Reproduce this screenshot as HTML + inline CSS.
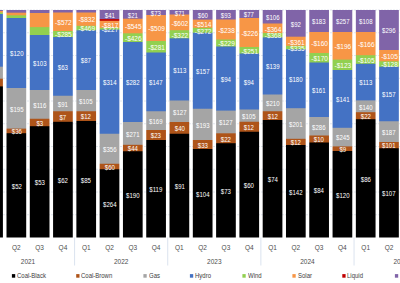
<!DOCTYPE html><html><head><meta charset="utf-8"><style>
*{margin:0;padding:0;box-sizing:border-box}
html,body{width:400px;height:283px;overflow:hidden;background:#fff}
body{position:relative;font-family:"Liberation Sans",sans-serif}
svg{position:absolute;left:0;top:0}
.l{position:absolute;color:#fff;font-size:6.5px;line-height:8px;height:8px;text-align:center;white-space:nowrap}
.ax{position:absolute;color:#4d4d4d;font-size:6.5px;line-height:8px;white-space:nowrap;text-align:center}
.lt{position:absolute;top:271.6px;color:#3d3d3d;font-size:6.5px;line-height:8px;white-space:nowrap;transform:scaleX(0.92);transform-origin:0 50%}
</style></head><body>
<svg width="400" height="283" viewBox="0 0 400 283">
<line x1="0" x2="400" y1="214.75" y2="214.75" stroke="#e2e7ee" stroke-width="1" stroke-dasharray="2 1"/>
<line x1="0" x2="400" y1="192.00" y2="192.00" stroke="#e2e7ee" stroke-width="1" stroke-dasharray="2 1"/>
<line x1="0" x2="400" y1="169.25" y2="169.25" stroke="#e2e7ee" stroke-width="1" stroke-dasharray="2 1"/>
<line x1="0" x2="400" y1="146.50" y2="146.50" stroke="#e2e7ee" stroke-width="1" stroke-dasharray="2 1"/>
<line x1="0" x2="400" y1="123.75" y2="123.75" stroke="#e2e7ee" stroke-width="1" stroke-dasharray="2 1"/>
<line x1="0" x2="400" y1="101.00" y2="101.00" stroke="#e2e7ee" stroke-width="1" stroke-dasharray="2 1"/>
<line x1="0" x2="400" y1="78.25" y2="78.25" stroke="#e2e7ee" stroke-width="1" stroke-dasharray="2 1"/>
<line x1="0" x2="400" y1="55.50" y2="55.50" stroke="#e2e7ee" stroke-width="1" stroke-dasharray="2 1"/>
<line x1="0" x2="400" y1="32.75" y2="32.75" stroke="#e2e7ee" stroke-width="1" stroke-dasharray="2 1"/>
<line x1="0" x2="400" y1="10.00" y2="10.00" stroke="#e2e7ee" stroke-width="1" stroke-dasharray="2 1"/>
<linearGradient id="g0" gradientUnits="userSpaceOnUse" x1="0" x2="0" y1="10.0" y2="237.5"><stop offset="0.00000" stop-color="#8064A8"/><stop offset="0.00220" stop-color="#8064A8"/><stop offset="0.00659" stop-color="#F79646"/><stop offset="0.00879" stop-color="#F79646"/><stop offset="0.01319" stop-color="#92D050"/><stop offset="0.01538" stop-color="#92D050"/><stop offset="0.01978" stop-color="#4472C4"/><stop offset="0.24703" stop-color="#4472C4"/><stop offset="0.25143" stop-color="#A5A5A5"/><stop offset="0.29978" stop-color="#A5A5A5"/><stop offset="0.30418" stop-color="#AE5419"/><stop offset="0.33363" stop-color="#AE5419"/><stop offset="0.33802" stop-color="#000000"/><stop offset="1.00000" stop-color="#000000"/></linearGradient>
<rect x="-16.79" y="10.0" width="19.7" height="227.50" fill="url(#g0)"/>
<linearGradient id="g1" gradientUnits="userSpaceOnUse" x1="0" x2="0" y1="10.0" y2="237.5"><stop offset="0.00000" stop-color="#8064A8"/><stop offset="0.00967" stop-color="#8064A8"/><stop offset="0.01407" stop-color="#F79646"/><stop offset="0.02110" stop-color="#F79646"/><stop offset="0.02549" stop-color="#92D050"/><stop offset="0.03297" stop-color="#92D050"/><stop offset="0.03736" stop-color="#4472C4"/><stop offset="0.34066" stop-color="#4472C4"/><stop offset="0.34505" stop-color="#A5A5A5"/><stop offset="0.51912" stop-color="#A5A5A5"/><stop offset="0.52352" stop-color="#AE5419"/><stop offset="0.53934" stop-color="#AE5419"/><stop offset="0.54374" stop-color="#000000"/><stop offset="1.00000" stop-color="#000000"/></linearGradient>
<rect x="6.50" y="10.0" width="19.7" height="227.50" fill="url(#g1)"/>
<linearGradient id="g2" gradientUnits="userSpaceOnUse" x1="0" x2="0" y1="10.0" y2="237.5"><stop offset="0.00000" stop-color="#8064A8"/><stop offset="0.01099" stop-color="#8064A8"/><stop offset="0.01538" stop-color="#F79646"/><stop offset="0.07297" stop-color="#F79646"/><stop offset="0.07736" stop-color="#92D050"/><stop offset="0.10769" stop-color="#92D050"/><stop offset="0.11209" stop-color="#4472C4"/><stop offset="0.34945" stop-color="#4472C4"/><stop offset="0.35385" stop-color="#A5A5A5"/><stop offset="0.47582" stop-color="#A5A5A5"/><stop offset="0.48022" stop-color="#AE5419"/><stop offset="0.50857" stop-color="#AE5419"/><stop offset="0.51297" stop-color="#000000"/><stop offset="1.00000" stop-color="#000000"/></linearGradient>
<rect x="29.79" y="10.0" width="19.7" height="227.50" fill="url(#g2)"/>
<linearGradient id="g3" gradientUnits="userSpaceOnUse" x1="0" x2="0" y1="10.0" y2="237.5"><stop offset="0.00000" stop-color="#8064A8"/><stop offset="0.00879" stop-color="#8064A8"/><stop offset="0.01319" stop-color="#F79646"/><stop offset="0.09011" stop-color="#F79646"/><stop offset="0.09451" stop-color="#92D050"/><stop offset="0.11648" stop-color="#92D050"/><stop offset="0.12088" stop-color="#4472C4"/><stop offset="0.37473" stop-color="#4472C4"/><stop offset="0.37912" stop-color="#A5A5A5"/><stop offset="0.44286" stop-color="#A5A5A5"/><stop offset="0.44725" stop-color="#AE5419"/><stop offset="0.48923" stop-color="#AE5419"/><stop offset="0.49363" stop-color="#000000"/><stop offset="1.00000" stop-color="#000000"/></linearGradient>
<rect x="53.08" y="10.0" width="19.7" height="227.50" fill="url(#g3)"/>
<linearGradient id="g4" gradientUnits="userSpaceOnUse" x1="0" x2="0" y1="10.0" y2="237.5"><stop offset="0.00000" stop-color="#8064A8"/><stop offset="0.00879" stop-color="#8064A8"/><stop offset="0.01319" stop-color="#F79646"/><stop offset="0.06725" stop-color="#F79646"/><stop offset="0.07165" stop-color="#92D050"/><stop offset="0.08703" stop-color="#92D050"/><stop offset="0.09143" stop-color="#4472C4"/><stop offset="0.34945" stop-color="#4472C4"/><stop offset="0.35385" stop-color="#A5A5A5"/><stop offset="0.44286" stop-color="#A5A5A5"/><stop offset="0.44725" stop-color="#AE5419"/><stop offset="0.48571" stop-color="#AE5419"/><stop offset="0.49011" stop-color="#000000"/><stop offset="1.00000" stop-color="#000000"/></linearGradient>
<rect x="76.37" y="10.0" width="19.7" height="227.50" fill="url(#g4)"/>
<linearGradient id="g5" gradientUnits="userSpaceOnUse" x1="0" x2="0" y1="10.0" y2="237.5"><stop offset="0.00000" stop-color="#8064A8"/><stop offset="0.03780" stop-color="#8064A8"/><stop offset="0.04220" stop-color="#C00000"/><stop offset="0.04527" stop-color="#C00000"/><stop offset="0.04967" stop-color="#F79646"/><stop offset="0.07604" stop-color="#F79646"/><stop offset="0.08044" stop-color="#92D050"/><stop offset="0.08396" stop-color="#92D050"/><stop offset="0.08835" stop-color="#4472C4"/><stop offset="0.54176" stop-color="#4472C4"/><stop offset="0.54615" stop-color="#A5A5A5"/><stop offset="0.67363" stop-color="#A5A5A5"/><stop offset="0.67802" stop-color="#AE5419"/><stop offset="0.69780" stop-color="#AE5419"/><stop offset="0.70220" stop-color="#000000"/><stop offset="1.00000" stop-color="#000000"/></linearGradient>
<rect x="99.66" y="10.0" width="19.7" height="227.50" fill="url(#g5)"/>
<linearGradient id="g6" gradientUnits="userSpaceOnUse" x1="0" x2="0" y1="10.0" y2="237.5"><stop offset="0.00000" stop-color="#8064A8"/><stop offset="0.03604" stop-color="#8064A8"/><stop offset="0.04044" stop-color="#F79646"/><stop offset="0.10022" stop-color="#F79646"/><stop offset="0.10462" stop-color="#92D050"/><stop offset="0.13846" stop-color="#92D050"/><stop offset="0.14286" stop-color="#4472C4"/><stop offset="0.49011" stop-color="#4472C4"/><stop offset="0.49451" stop-color="#A5A5A5"/><stop offset="0.59033" stop-color="#A5A5A5"/><stop offset="0.59473" stop-color="#AE5419"/><stop offset="0.61868" stop-color="#AE5419"/><stop offset="0.62308" stop-color="#000000"/><stop offset="1.00000" stop-color="#000000"/></linearGradient>
<rect x="122.95" y="10.0" width="19.7" height="227.50" fill="url(#g6)"/>
<linearGradient id="g7" gradientUnits="userSpaceOnUse" x1="0" x2="0" y1="10.0" y2="237.5"><stop offset="0.00000" stop-color="#8064A8"/><stop offset="0.01978" stop-color="#8064A8"/><stop offset="0.02418" stop-color="#F79646"/><stop offset="0.13407" stop-color="#F79646"/><stop offset="0.13846" stop-color="#92D050"/><stop offset="0.18462" stop-color="#92D050"/><stop offset="0.18901" stop-color="#4472C4"/><stop offset="0.44286" stop-color="#4472C4"/><stop offset="0.44725" stop-color="#A5A5A5"/><stop offset="0.52527" stop-color="#A5A5A5"/><stop offset="0.52967" stop-color="#AE5419"/><stop offset="0.56923" stop-color="#AE5419"/><stop offset="0.57363" stop-color="#000000"/><stop offset="1.00000" stop-color="#000000"/></linearGradient>
<rect x="146.24" y="10.0" width="19.7" height="227.50" fill="url(#g7)"/>
<linearGradient id="g8" gradientUnits="userSpaceOnUse" x1="0" x2="0" y1="10.0" y2="237.5"><stop offset="0.00000" stop-color="#8064A8"/><stop offset="0.01758" stop-color="#8064A8"/><stop offset="0.02198" stop-color="#F79646"/><stop offset="0.08659" stop-color="#F79646"/><stop offset="0.09099" stop-color="#92D050"/><stop offset="0.12220" stop-color="#92D050"/><stop offset="0.12659" stop-color="#4472C4"/><stop offset="0.39560" stop-color="#4472C4"/><stop offset="0.40000" stop-color="#A5A5A5"/><stop offset="0.49011" stop-color="#A5A5A5"/><stop offset="0.49451" stop-color="#AE5419"/><stop offset="0.54176" stop-color="#AE5419"/><stop offset="0.54615" stop-color="#000000"/><stop offset="1.00000" stop-color="#000000"/></linearGradient>
<rect x="169.53" y="10.0" width="19.7" height="227.50" fill="url(#g8)"/>
<linearGradient id="g9" gradientUnits="userSpaceOnUse" x1="0" x2="0" y1="10.0" y2="237.5"><stop offset="0.00000" stop-color="#8064A8"/><stop offset="0.04000" stop-color="#8064A8"/><stop offset="0.04440" stop-color="#F79646"/><stop offset="0.07604" stop-color="#F79646"/><stop offset="0.08044" stop-color="#92D050"/><stop offset="0.09802" stop-color="#92D050"/><stop offset="0.10242" stop-color="#4472C4"/><stop offset="0.43187" stop-color="#4472C4"/><stop offset="0.43626" stop-color="#A5A5A5"/><stop offset="0.56923" stop-color="#A5A5A5"/><stop offset="0.57363" stop-color="#AE5419"/><stop offset="0.60879" stop-color="#AE5419"/><stop offset="0.61319" stop-color="#000000"/><stop offset="1.00000" stop-color="#000000"/></linearGradient>
<rect x="192.82" y="10.0" width="19.7" height="227.50" fill="url(#g9)"/>
<linearGradient id="g10" gradientUnits="userSpaceOnUse" x1="0" x2="0" y1="10.0" y2="237.5"><stop offset="0.00000" stop-color="#8064A8"/><stop offset="0.03956" stop-color="#8064A8"/><stop offset="0.04396" stop-color="#F79646"/><stop offset="0.12747" stop-color="#F79646"/><stop offset="0.13187" stop-color="#92D050"/><stop offset="0.15824" stop-color="#92D050"/><stop offset="0.16264" stop-color="#4472C4"/><stop offset="0.44000" stop-color="#4472C4"/><stop offset="0.44440" stop-color="#A5A5A5"/><stop offset="0.53978" stop-color="#A5A5A5"/><stop offset="0.54418" stop-color="#AE5419"/><stop offset="0.58330" stop-color="#AE5419"/><stop offset="0.58769" stop-color="#000000"/><stop offset="1.00000" stop-color="#000000"/></linearGradient>
<rect x="216.11" y="10.0" width="19.7" height="227.50" fill="url(#g10)"/>
<linearGradient id="g11" gradientUnits="userSpaceOnUse" x1="0" x2="0" y1="10.0" y2="237.5"><stop offset="0.00000" stop-color="#8064A8"/><stop offset="0.03297" stop-color="#8064A8"/><stop offset="0.03736" stop-color="#F79646"/><stop offset="0.16044" stop-color="#F79646"/><stop offset="0.16484" stop-color="#92D050"/><stop offset="0.18901" stop-color="#92D050"/><stop offset="0.19341" stop-color="#4472C4"/><stop offset="0.43516" stop-color="#4472C4"/><stop offset="0.43956" stop-color="#A5A5A5"/><stop offset="0.48901" stop-color="#A5A5A5"/><stop offset="0.49341" stop-color="#AE5419"/><stop offset="0.53297" stop-color="#AE5419"/><stop offset="0.53736" stop-color="#000000"/><stop offset="1.00000" stop-color="#000000"/></linearGradient>
<rect x="239.40" y="10.0" width="19.7" height="227.50" fill="url(#g11)"/>
<linearGradient id="g12" gradientUnits="userSpaceOnUse" x1="0" x2="0" y1="10.0" y2="237.5"><stop offset="0.00000" stop-color="#8064A8"/><stop offset="0.05714" stop-color="#8064A8"/><stop offset="0.06154" stop-color="#F79646"/><stop offset="0.09890" stop-color="#F79646"/><stop offset="0.10330" stop-color="#92D050"/><stop offset="0.11824" stop-color="#92D050"/><stop offset="0.12264" stop-color="#4472C4"/><stop offset="0.36923" stop-color="#4472C4"/><stop offset="0.37363" stop-color="#A5A5A5"/><stop offset="0.44286" stop-color="#A5A5A5"/><stop offset="0.44725" stop-color="#AE5419"/><stop offset="0.48132" stop-color="#AE5419"/><stop offset="0.48571" stop-color="#000000"/><stop offset="1.00000" stop-color="#000000"/></linearGradient>
<rect x="262.69" y="10.0" width="19.7" height="227.50" fill="url(#g12)"/>
<linearGradient id="g13" gradientUnits="userSpaceOnUse" x1="0" x2="0" y1="10.0" y2="237.5"><stop offset="0.00000" stop-color="#8064A8"/><stop offset="0.11516" stop-color="#8064A8"/><stop offset="0.11956" stop-color="#F79646"/><stop offset="0.15516" stop-color="#F79646"/><stop offset="0.15956" stop-color="#92D050"/><stop offset="0.17055" stop-color="#92D050"/><stop offset="0.17495" stop-color="#4472C4"/><stop offset="0.42945" stop-color="#4472C4"/><stop offset="0.43385" stop-color="#A5A5A5"/><stop offset="0.56396" stop-color="#A5A5A5"/><stop offset="0.56835" stop-color="#AE5419"/><stop offset="0.59121" stop-color="#AE5419"/><stop offset="0.59560" stop-color="#000000"/><stop offset="1.00000" stop-color="#000000"/></linearGradient>
<rect x="285.98" y="10.0" width="19.7" height="227.50" fill="url(#g13)"/>
<linearGradient id="g14" gradientUnits="userSpaceOnUse" x1="0" x2="0" y1="10.0" y2="237.5"><stop offset="0.00000" stop-color="#8064A8"/><stop offset="0.09451" stop-color="#8064A8"/><stop offset="0.09890" stop-color="#F79646"/><stop offset="0.18681" stop-color="#F79646"/><stop offset="0.19121" stop-color="#92D050"/><stop offset="0.22857" stop-color="#92D050"/><stop offset="0.23297" stop-color="#4472C4"/><stop offset="0.46813" stop-color="#4472C4"/><stop offset="0.47253" stop-color="#A5A5A5"/><stop offset="0.54945" stop-color="#A5A5A5"/><stop offset="0.55385" stop-color="#AE5419"/><stop offset="0.58022" stop-color="#AE5419"/><stop offset="0.58462" stop-color="#000000"/><stop offset="1.00000" stop-color="#000000"/></linearGradient>
<rect x="309.27" y="10.0" width="19.7" height="227.50" fill="url(#g14)"/>
<linearGradient id="g15" gradientUnits="userSpaceOnUse" x1="0" x2="0" y1="10.0" y2="237.5"><stop offset="0.00000" stop-color="#8064A8"/><stop offset="0.09451" stop-color="#8064A8"/><stop offset="0.09890" stop-color="#F79646"/><stop offset="0.21582" stop-color="#F79646"/><stop offset="0.22022" stop-color="#92D050"/><stop offset="0.26154" stop-color="#92D050"/><stop offset="0.26593" stop-color="#4472C4"/><stop offset="0.51560" stop-color="#4472C4"/><stop offset="0.52000" stop-color="#A5A5A5"/><stop offset="0.59736" stop-color="#A5A5A5"/><stop offset="0.60176" stop-color="#AE5419"/><stop offset="0.61758" stop-color="#AE5419"/><stop offset="0.62198" stop-color="#000000"/><stop offset="1.00000" stop-color="#000000"/></linearGradient>
<rect x="332.56" y="10.0" width="19.7" height="227.50" fill="url(#g15)"/>
<linearGradient id="g16" gradientUnits="userSpaceOnUse" x1="0" x2="0" y1="10.0" y2="237.5"><stop offset="0.00000" stop-color="#8064A8"/><stop offset="0.09451" stop-color="#8064A8"/><stop offset="0.09890" stop-color="#F79646"/><stop offset="0.19648" stop-color="#F79646"/><stop offset="0.20088" stop-color="#92D050"/><stop offset="0.23429" stop-color="#92D050"/><stop offset="0.23868" stop-color="#4472C4"/><stop offset="0.39516" stop-color="#4472C4"/><stop offset="0.39956" stop-color="#A5A5A5"/><stop offset="0.44703" stop-color="#A5A5A5"/><stop offset="0.45143" stop-color="#AE5419"/><stop offset="0.47780" stop-color="#AE5419"/><stop offset="0.48220" stop-color="#000000"/><stop offset="1.00000" stop-color="#000000"/></linearGradient>
<rect x="355.85" y="10.0" width="19.7" height="227.50" fill="url(#g16)"/>
<linearGradient id="g17" gradientUnits="userSpaceOnUse" x1="0" x2="0" y1="10.0" y2="237.5"><stop offset="0.00000" stop-color="#8064A8"/><stop offset="0.17363" stop-color="#8064A8"/><stop offset="0.17802" stop-color="#F79646"/><stop offset="0.22330" stop-color="#F79646"/><stop offset="0.22769" stop-color="#92D050"/><stop offset="0.24703" stop-color="#92D050"/><stop offset="0.25143" stop-color="#4472C4"/><stop offset="0.48681" stop-color="#4472C4"/><stop offset="0.49121" stop-color="#A5A5A5"/><stop offset="0.57802" stop-color="#A5A5A5"/><stop offset="0.58242" stop-color="#AE5419"/><stop offset="0.60549" stop-color="#AE5419"/><stop offset="0.60989" stop-color="#000000"/><stop offset="1.00000" stop-color="#000000"/></linearGradient>
<rect x="379.14" y="10.0" width="19.7" height="227.50" fill="url(#g17)"/>
<line x1="74.58" x2="74.58" y1="237.5" y2="265.5" stroke="#dbe3ef" stroke-width="1"/>
<line x1="167.74" x2="167.74" y1="237.5" y2="265.5" stroke="#dbe3ef" stroke-width="1"/>
<line x1="260.89" x2="260.89" y1="237.5" y2="265.5" stroke="#dbe3ef" stroke-width="1"/>
<line x1="354.05" x2="354.05" y1="237.5" y2="265.5" stroke="#dbe3ef" stroke-width="1"/>
<rect x="11.9" y="274.1" width="3.3" height="3.6" fill="#000000"/>
<rect x="76.2" y="274.1" width="3.3" height="3.6" fill="#AE5419"/>
<rect x="143.4" y="274.1" width="3.3" height="3.6" fill="#A5A5A5"/>
<rect x="189.9" y="274.1" width="3.3" height="3.6" fill="#4472C4"/>
<rect x="242.4" y="274.1" width="3.3" height="3.6" fill="#92D050"/>
<rect x="292.4" y="274.1" width="3.3" height="3.6" fill="#F79646"/>
<rect x="342.29999999999995" y="274.1" width="3.3" height="3.6" fill="#C00000"/>
<rect x="394.9" y="274.1" width="3.3" height="3.6" fill="#8064A8"/>
</svg>
<div class="l" style="left:1.50px;width:29.7px;top:50.25px;transform:scaleX(0.93)">$120</div>
<div class="l" style="left:1.50px;width:29.7px;top:105.55px;transform:scaleX(0.93)">$195</div>
<div class="l" style="left:1.50px;width:29.7px;top:128.15px;transform:scaleX(0.93)">$36</div>
<div class="l" style="left:1.50px;width:29.7px;top:182.60px;transform:scaleX(0.93)">$52</div>
<div class="l" style="left:24.79px;width:29.7px;top:59.75px;transform:scaleX(0.93)">$103</div>
<div class="l" style="left:24.79px;width:29.7px;top:101.62px;transform:scaleX(0.93)">$116</div>
<div class="l" style="left:24.79px;width:29.7px;top:119.72px;transform:scaleX(0.93)">$3</div>
<div class="l" style="left:24.79px;width:29.7px;top:179.10px;transform:scaleX(0.93)">$53</div>
<div class="l" style="left:48.58px;width:29.7px;top:19.00px">-$572</div>
<div class="l" style="left:48.58px;width:29.7px;top:31.25px">-$285</div>
<div class="l" style="left:48.08px;width:29.7px;top:63.62px;transform:scaleX(0.93)">$63</div>
<div class="l" style="left:48.08px;width:29.7px;top:100.75px;transform:scaleX(0.93)">$91</div>
<div class="l" style="left:48.08px;width:29.7px;top:113.78px;transform:scaleX(0.93)">$7</div>
<div class="l" style="left:48.08px;width:29.7px;top:176.90px;transform:scaleX(0.93)">$62</div>
<div class="l" style="left:71.87px;width:29.7px;top:16.40px">-$832</div>
<div class="l" style="left:71.87px;width:29.7px;top:25.30px">-$469</div>
<div class="l" style="left:71.37px;width:29.7px;top:57.40px;transform:scaleX(0.93)">$87</div>
<div class="l" style="left:71.37px;width:29.7px;top:97.88px;transform:scaleX(0.93)">$105</div>
<div class="l" style="left:71.37px;width:29.7px;top:113.38px;transform:scaleX(0.93)">$12</div>
<div class="l" style="left:71.37px;width:29.7px;top:176.50px;transform:scaleX(0.93)">$85</div>
<div class="l" style="left:94.66px;width:29.7px;top:11.80px;transform:scaleX(0.93)">$41</div>
<div class="l" style="left:95.16px;width:29.7px;top:21.55px">-$817</div>
<div class="l" style="left:95.16px;width:29.7px;top:25.95px">-$227</div>
<div class="l" style="left:94.66px;width:29.7px;top:78.92px;transform:scaleX(0.93)">$314</div>
<div class="l" style="left:94.66px;width:29.7px;top:146.00px;transform:scaleX(0.93)">$356</div>
<div class="l" style="left:94.66px;width:29.7px;top:163.75px;transform:scaleX(0.93)">$60</div>
<div class="l" style="left:94.66px;width:29.7px;top:200.62px;transform:scaleX(0.93)">$264</div>
<div class="l" style="left:117.95px;width:29.7px;top:11.60px;transform:scaleX(0.93)">$21</div>
<div class="l" style="left:118.45px;width:29.7px;top:23.25px">-$545</div>
<div class="l" style="left:118.45px;width:29.7px;top:34.90px">-$426</div>
<div class="l" style="left:117.95px;width:29.7px;top:79.25px;transform:scaleX(0.93)">$282</div>
<div class="l" style="left:117.95px;width:29.7px;top:130.65px;transform:scaleX(0.93)">$271</div>
<div class="l" style="left:117.95px;width:29.7px;top:145.28px;transform:scaleX(0.93)">$44</div>
<div class="l" style="left:117.95px;width:29.7px;top:191.62px;transform:scaleX(0.93)">$190</div>
<div class="l" style="left:141.24px;width:29.7px;top:9.75px;transform:scaleX(0.93)">$73</div>
<div class="l" style="left:141.74px;width:29.7px;top:25.25px">-$509</div>
<div class="l" style="left:141.74px;width:29.7px;top:44.00px">-$281</div>
<div class="l" style="left:141.24px;width:29.7px;top:79.12px;transform:scaleX(0.93)">$147</div>
<div class="l" style="left:141.24px;width:29.7px;top:117.88px;transform:scaleX(0.93)">$169</div>
<div class="l" style="left:141.24px;width:29.7px;top:132.25px;transform:scaleX(0.93)">$23</div>
<div class="l" style="left:141.24px;width:29.7px;top:186.00px;transform:scaleX(0.93)">$119</div>
<div class="l" style="left:164.53px;width:29.7px;top:9.50px;transform:scaleX(0.93)">$71</div>
<div class="l" style="left:165.03px;width:29.7px;top:19.60px">-$602</div>
<div class="l" style="left:165.03px;width:29.7px;top:31.50px">-$322</div>
<div class="l" style="left:164.53px;width:29.7px;top:66.65px;transform:scaleX(0.93)">$113</div>
<div class="l" style="left:164.53px;width:29.7px;top:108.50px;transform:scaleX(0.93)">$127</div>
<div class="l" style="left:164.53px;width:29.7px;top:125.12px;transform:scaleX(0.93)">$40</div>
<div class="l" style="left:164.53px;width:29.7px;top:182.88px;transform:scaleX(0.93)">$91</div>
<div class="l" style="left:187.82px;width:29.7px;top:12.05px;transform:scaleX(0.93)">$60</div>
<div class="l" style="left:188.32px;width:29.7px;top:20.95px">-$514</div>
<div class="l" style="left:188.32px;width:29.7px;top:27.55px">-$272</div>
<div class="l" style="left:187.82px;width:29.7px;top:68.03px;transform:scaleX(0.93)">$157</div>
<div class="l" style="left:187.82px;width:29.7px;top:121.62px;transform:scaleX(0.93)">$193</div>
<div class="l" style="left:187.82px;width:29.7px;top:141.75px;transform:scaleX(0.93)">$33</div>
<div class="l" style="left:187.82px;width:29.7px;top:190.50px;transform:scaleX(0.93)">$104</div>
<div class="l" style="left:211.11px;width:29.7px;top:12.00px;transform:scaleX(0.93)">$93</div>
<div class="l" style="left:211.61px;width:29.7px;top:26.75px">-$238</div>
<div class="l" style="left:211.61px;width:29.7px;top:40.25px">-$229</div>
<div class="l" style="left:211.11px;width:29.7px;top:75.80px;transform:scaleX(0.93)">$94</div>
<div class="l" style="left:211.11px;width:29.7px;top:119.20px;transform:scaleX(0.93)">$127</div>
<div class="l" style="left:211.11px;width:29.7px;top:135.50px;transform:scaleX(0.93)">$22</div>
<div class="l" style="left:211.11px;width:29.7px;top:187.60px;transform:scaleX(0.93)">$73</div>
<div class="l" style="left:234.40px;width:29.7px;top:11.25px;transform:scaleX(0.93)">$77</div>
<div class="l" style="left:234.90px;width:29.7px;top:29.75px">-$226</div>
<div class="l" style="left:234.90px;width:29.7px;top:47.50px">-$251</div>
<div class="l" style="left:234.40px;width:29.7px;top:78.75px;transform:scaleX(0.93)">$94</div>
<div class="l" style="left:234.40px;width:29.7px;top:112.88px;transform:scaleX(0.93)">$105</div>
<div class="l" style="left:234.40px;width:29.7px;top:124.00px;transform:scaleX(0.93)">$12</div>
<div class="l" style="left:234.40px;width:29.7px;top:181.88px;transform:scaleX(0.93)">$60</div>
<div class="l" style="left:257.69px;width:29.7px;top:14.00px;transform:scaleX(0.93)">$106</div>
<div class="l" style="left:258.19px;width:29.7px;top:25.50px">-$364</div>
<div class="l" style="left:258.19px;width:29.7px;top:32.45px">-$368</div>
<div class="l" style="left:257.69px;width:29.7px;top:63.20px;transform:scaleX(0.93)">$139</div>
<div class="l" style="left:257.69px;width:29.7px;top:100.12px;transform:scaleX(0.93)">$210</div>
<div class="l" style="left:257.69px;width:29.7px;top:112.88px;transform:scaleX(0.93)">$12</div>
<div class="l" style="left:257.69px;width:29.7px;top:176.00px;transform:scaleX(0.93)">$74</div>
<div class="l" style="left:280.98px;width:29.7px;top:20.60px;transform:scaleX(0.93)">$92</div>
<div class="l" style="left:281.48px;width:29.7px;top:38.50px">-$361</div>
<div class="l" style="left:281.48px;width:29.7px;top:44.80px">-$335</div>
<div class="l" style="left:280.98px;width:29.7px;top:76.00px;transform:scaleX(0.93)">$180</div>
<div class="l" style="left:280.98px;width:29.7px;top:120.75px;transform:scaleX(0.93)">$201</div>
<div class="l" style="left:280.98px;width:29.7px;top:139.15px;transform:scaleX(0.93)">$12</div>
<div class="l" style="left:280.98px;width:29.7px;top:188.50px;transform:scaleX(0.93)">$142</div>
<div class="l" style="left:304.27px;width:29.7px;top:18.25px;transform:scaleX(0.93)">$183</div>
<div class="l" style="left:304.77px;width:29.7px;top:39.75px">-$160</div>
<div class="l" style="left:304.77px;width:29.7px;top:55.00px">-$170</div>
<div class="l" style="left:304.27px;width:29.7px;top:87.00px;transform:scaleX(0.93)">$161</div>
<div class="l" style="left:304.27px;width:29.7px;top:123.50px;transform:scaleX(0.93)">$286</div>
<div class="l" style="left:304.27px;width:29.7px;top:136.25px;transform:scaleX(0.93)">$10</div>
<div class="l" style="left:304.27px;width:29.7px;top:187.25px;transform:scaleX(0.93)">$84</div>
<div class="l" style="left:327.56px;width:29.7px;top:18.25px;transform:scaleX(0.93)">$257</div>
<div class="l" style="left:328.06px;width:29.7px;top:43.05px">-$196</div>
<div class="l" style="left:328.06px;width:29.7px;top:62.05px">-$123</div>
<div class="l" style="left:327.56px;width:29.7px;top:96.15px;transform:scaleX(0.93)">$141</div>
<div class="l" style="left:327.56px;width:29.7px;top:134.35px;transform:scaleX(0.93)">$245</div>
<div class="l" style="left:327.56px;width:29.7px;top:145.95px;transform:scaleX(0.93)">$9</div>
<div class="l" style="left:327.56px;width:29.7px;top:191.50px;transform:scaleX(0.93)">$120</div>
<div class="l" style="left:350.85px;width:29.7px;top:18.25px;transform:scaleX(0.93)">$108</div>
<div class="l" style="left:351.35px;width:29.7px;top:40.85px">-$166</div>
<div class="l" style="left:351.35px;width:29.7px;top:56.75px">-$105</div>
<div class="l" style="left:350.85px;width:29.7px;top:79.35px;transform:scaleX(0.93)">$113</div>
<div class="l" style="left:350.85px;width:29.7px;top:103.55px;transform:scaleX(0.93)">$140</div>
<div class="l" style="left:350.85px;width:29.7px;top:112.95px;transform:scaleX(0.93)">$22</div>
<div class="l" style="left:350.85px;width:29.7px;top:175.60px;transform:scaleX(0.93)">$86</div>
<div class="l" style="left:374.14px;width:29.7px;top:27.25px;transform:scaleX(0.93)">$296</div>
<div class="l" style="left:374.64px;width:29.7px;top:52.90px">-$105</div>
<div class="l" style="left:374.64px;width:29.7px;top:61.25px">-$128</div>
<div class="l" style="left:374.14px;width:29.7px;top:91.22px;transform:scaleX(0.93)">$157</div>
<div class="l" style="left:374.14px;width:29.7px;top:128.88px;transform:scaleX(0.93)">$187</div>
<div class="l" style="left:374.14px;width:29.7px;top:142.38px;transform:scaleX(0.93)">$101</div>
<div class="l" style="left:374.14px;width:29.7px;top:190.12px;transform:scaleX(0.93)">$107</div>
<div class="ax" style="left:-16.94px;width:20px;top:243.5px">Q1</div>
<div class="ax" style="left:6.35px;width:20px;top:243.5px">Q2</div>
<div class="ax" style="left:29.64px;width:20px;top:243.5px">Q3</div>
<div class="ax" style="left:52.93px;width:20px;top:243.5px">Q4</div>
<div class="ax" style="left:76.22px;width:20px;top:243.5px">Q1</div>
<div class="ax" style="left:99.51px;width:20px;top:243.5px">Q2</div>
<div class="ax" style="left:122.80px;width:20px;top:243.5px">Q3</div>
<div class="ax" style="left:146.09px;width:20px;top:243.5px">Q4</div>
<div class="ax" style="left:169.38px;width:20px;top:243.5px">Q1</div>
<div class="ax" style="left:192.67px;width:20px;top:243.5px">Q2</div>
<div class="ax" style="left:215.96px;width:20px;top:243.5px">Q3</div>
<div class="ax" style="left:239.25px;width:20px;top:243.5px">Q4</div>
<div class="ax" style="left:262.54px;width:20px;top:243.5px">Q1</div>
<div class="ax" style="left:285.83px;width:20px;top:243.5px">Q2</div>
<div class="ax" style="left:309.12px;width:20px;top:243.5px">Q3</div>
<div class="ax" style="left:332.41px;width:20px;top:243.5px">Q4</div>
<div class="ax" style="left:355.70px;width:20px;top:243.5px">Q1</div>
<div class="ax" style="left:378.99px;width:20px;top:243.5px">Q2</div>
<div class="ax" style="left:8.00px;width:40px;top:257.5px">2021</div>
<div class="ax" style="left:101.16px;width:40px;top:257.5px">2022</div>
<div class="ax" style="left:194.31px;width:40px;top:257.5px">2023</div>
<div class="ax" style="left:287.48px;width:40px;top:257.5px">2024</div>
<div class="ax" style="left:380.63px;width:40px;top:257.5px">2025</div>
<div class="lt" style="left:17px">Coal-Black</div>
<div class="lt" style="left:81.3px">Coal-Brown</div>
<div class="lt" style="left:148.5px">Gas</div>
<div class="lt" style="left:195px">Hydro</div>
<div class="lt" style="left:247.5px">Wind</div>
<div class="lt" style="left:297.5px">Solar</div>
<div class="lt" style="left:347.4px">Liquid</div>
<div class="lt" style="left:400px">Other</div>
</body></html>
